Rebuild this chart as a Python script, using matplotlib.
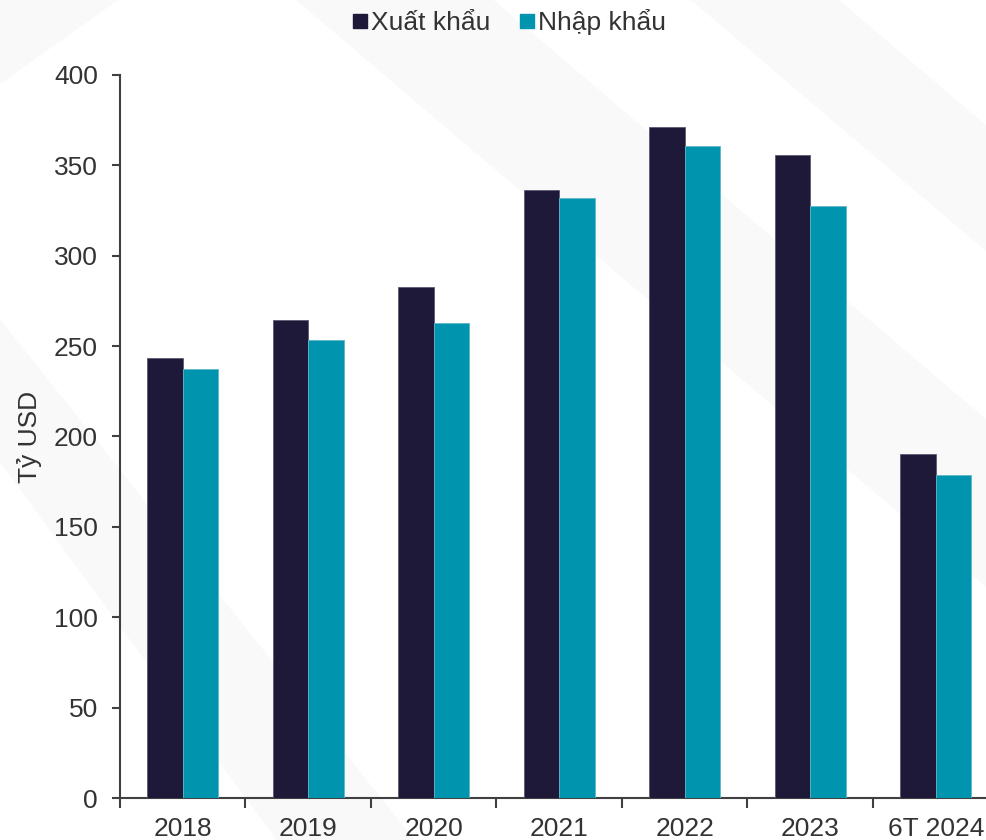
import matplotlib
matplotlib.use("Agg")
import matplotlib.pyplot as plt
import numpy as np
from matplotlib.patches import Polygon
from matplotlib.lines import Line2D

categories = ["2018", "2019", "2020", "2021", "2022", "2023", "6T 2024"]
xuat_khau = [243.5, 264.2, 282.6, 336.3, 371.3, 355.5, 190.1]
nhap_khau = [237.5, 253.5, 262.7, 332.2, 360.7, 327.5, 178.5]
y_ticks = [0, 50, 100, 150, 200, 250, 300, 350, 400]

DARK = "#1E1839"
TEAL = "#0094AE"
TXT = "#333333"
AX = "#404040"
FS = 19

plt.rcParams['font.family'] = ['Liberation Sans', 'DejaVu Sans']

fig = plt.figure(figsize=(9.87, 8.4), dpi=100, facecolor="white")

# faint diagonal background bands in a background axes
bg = fig.add_axes([0, 0, 1, 1], zorder=-10)
bg.set_xlim(0, 1)
bg.set_ylim(0, 1)
bg.axis("off")
bands = [
    [(0.0, 0.45), (0.0, 0.62), (0.42, 0.0), (0.28, 0.0)],
    [(0.3, 1.0), (0.5, 1.0), (1.0, 0.5), (1.0, 0.3)],
    [(0.7, 1.0), (0.85, 1.0), (1.0, 0.85), (1.0, 0.7)],
    [(0.0, 0.9), (0.0, 1.0), (0.12, 1.0)],
]
for b in bands:
    bg.add_patch(Polygon(b, closed=True, facecolor="#f9f9f9", edgecolor="none"))

ax = fig.add_axes([120/987, 1-798/840, 878.5/987, (798-75)/840])
ax.set_facecolor("none")

x = np.arange(len(categories))
w = 0.283
ax.bar(x - w/2, xuat_khau, width=w, color=DARK, edgecolor="#5c5872", linewidth=0.6, zorder=3)
ax.bar(x + w/2, nhap_khau, width=w, color=TEAL, edgecolor="#5fb8c8", linewidth=0.6, zorder=3)

ax.set_xlim(-0.5, len(categories) - 0.5)
ax.set_ylim(0, 400)
ax.set_yticks(y_ticks)
ax.set_yticklabels([str(t) for t in y_ticks], fontsize=FS, color=TXT)

ax.set_xticks(x)
ax.set_xticklabels(categories, fontsize=FS, color=TXT)
ax.set_xticks(np.arange(len(categories) + 1) - 0.5, minor=True)
ax.tick_params(axis='x', which='major', length=0, pad=14)
ax.tick_params(axis='x', which='minor', length=7, width=1.5, color=AX, direction='out')
ax.tick_params(axis='y', which='major', length=6, width=1.5, color=AX, pad=10, direction='out')

for s in ["top", "right"]:
    ax.spines[s].set_visible(False)
for s in ["left", "bottom"]:
    ax.spines[s].set_color(AX)
    ax.spines[s].set_linewidth(1.5)

ax.set_ylabel("Tỷ USD", fontsize=FS, color=TXT)
ax.yaxis.set_label_coords(-0.089, 0.5)

handles = [Line2D([], [], marker='s', linestyle='none', markersize=10.5, color=DARK),
           Line2D([], [], marker='s', linestyle='none', markersize=10.5, color=TEAL)]
leg = fig.legend(handles, ["Xuất khẩu", "Nhập khẩu"], loc='center',
                 bbox_to_anchor=(509/987, 1-22/840), ncol=2, frameon=False,
                 fontsize=FS, handlelength=0.6, handletextpad=0.1,
                 columnspacing=1.1, labelcolor=TXT)

fig.savefig("out.png", dpi=100, facecolor=fig.get_facecolor())
